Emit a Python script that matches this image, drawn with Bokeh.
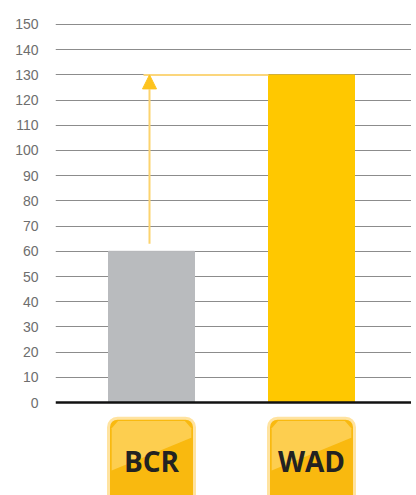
from bokeh.plotting import figure
from bokeh.models import Range1d, FixedTicker, Span, Arrow, NormalHead, ColumnDataSource
from bokeh.core.properties import value
from bokeh.embed import file_html
from bokeh.resources import INLINE

categories = ["BCR", "WAD"]
values = [60, 130]
bar_colors = ["#b9bbbe", "#ffc800"]
y_ticks = [0, 10, 20, 30, 40, 50, 60, 70, 80, 90, 100, 110, 120, 130, 140, 150]

xs = list(range(len(categories)))
bar_w = 0.5375

p = figure(width=411, height=495, output_backend="svg", toolbar_location=None,
           x_range=Range1d(-0.6, 1.625), y_range=Range1d(-36.9, 159.52),
           min_border_left=55, min_border_right=0, min_border_top=0, min_border_bottom=0)
p.outline_line_color = None
p.xaxis.visible = False
p.xgrid.visible = False

p.yaxis.ticker = FixedTicker(ticks=y_ticks)
p.yaxis.axis_line_color = None
p.yaxis.major_tick_line_color = None
p.yaxis.minor_tick_line_color = None
p.yaxis.major_label_standoff = 11
p.yaxis.major_label_text_font = "Liberation Sans"
p.yaxis.major_label_text_font_size = "14px"
p.yaxis.major_label_text_color = "#6e6e6e"

p.ygrid.ticker = FixedTicker(ticks=y_ticks[1:])
p.ygrid.grid_line_color = "#8c8c8c"
p.ygrid.grid_line_width = 1

src = ColumnDataSource(dict(x=xs, top=values, color=bar_colors, cat=categories))
p.vbar(x="x", top="top", bottom=0, width=bar_w, color="color", source=src)

# arrow from BCR level up to WAD level
p.segment(x0=xs[0] - 0.05, y0=values[1], x1=xs[1] - bar_w / 2, y1=values[1],
          line_color="#fbd67c", line_width=2)
p.add_layout(Arrow(end=NormalHead(size=14, fill_color="#fdc31e", line_color="#fdc31e"),
                   x_start=xs[0] - 0.0125, y_start=values[0] + 3, x_end=xs[0] - 0.0125, y_end=values[1],
                   line_color="#fcd36e", line_width=2))

p.add_layout(Span(location=0, dimension="width", line_color="#111111", line_width=2.5))

# category badges
badge_top = -6.2
badge_bottom = -50
p.quad(left=[x - bar_w / 2 for x in xs], right=[x + bar_w / 2 for x in xs],
       top=badge_top, bottom=badge_bottom, fill_color="#f9b90f",
       line_color="#ffe3a0", line_width=3, border_radius=9)
m = 0.02
gloss_x = [[x - bar_w / 2 + m, x - bar_w / 2 + m + 0.04, x + bar_w / 2 - m - 0.04,
            x + bar_w / 2 - m, x + bar_w / 2 - m, x - bar_w / 2 + m] for x in xs]
gloss_y = [[badge_top - 4, badge_top - 1.1, badge_top - 1.1, badge_top - 4, -14, -27] for x in xs]
p.patches(xs=gloss_x, ys=gloss_y, fill_color="#fdd565", fill_alpha=0.75, line_color=None)
p.text(x=xs, y=-23.4, text=categories, text_align="center", text_baseline="middle",
       text_font=value("Open Sans"), text_font_style="bold", text_font_size="28px",
       text_color="#222222")

open("out.html", "w").write(file_html(p, INLINE))
